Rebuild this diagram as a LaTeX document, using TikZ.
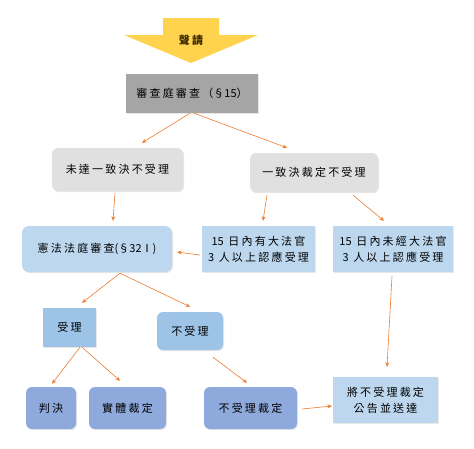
\documentclass[tikz,border=0pt]{standalone}
\usepackage{fontspec}
\setmainfont{Liberation Serif}
\newfontfamily\cjk[LetterSpace=20]{Noto Sans CJK TC}
\newfontfamily\cjktight{Noto Sans CJK TC}
\newcommand{\tight}[1]{{\cjktight #1}}
\usetikzlibrary{arrows.meta,calc,shadows}
\definecolor{arrowyellow}{HTML}{FFD34E}
\definecolor{boxgray}{HTML}{A5A5A5}
\definecolor{lightgray}{HTML}{E0E0E0}
\definecolor{lightblue}{HTML}{BDD7EE}
\definecolor{midblue}{HTML}{9DC3E6}
\definecolor{darkblue}{HTML}{8EA9DB}
\definecolor{conn}{HTML}{ED7D31}
\definecolor{applytext}{HTML}{3A2A00}
\begin{document}
\begin{tikzpicture}[x=1pt,y=-1pt,
  font=\cjk\fontsize{11}{16}\selectfont,
  base/.style={inner sep=0pt, align=center, text=black,
    drop shadow={opacity=0.18, shadow xshift=1pt, shadow yshift=-1.2pt}},
  graybox/.style={base, fill=boxgray},
  lgraybox/.style={base, fill=lightgray, rounded corners=6pt},
  lbluerect/.style={base, fill=lightblue},
  lblueround/.style={base, fill=lightblue, rounded corners=7pt},
  mbluerect/.style={base, fill=midblue},
  mblueround/.style={base, fill=midblue, rounded corners=6pt},
  dblueround/.style={base, fill=darkblue, rounded corners=6pt},
  conn/.style={draw=conn, line width=0.6pt, -{Stealth[length=4.5pt,width=4pt]}}
]
\useasboundingbox (0,0) rectangle (474,448);
\fill[white] (0,0) rectangle (474,448);

% yellow arrow
\fill[arrowyellow] (163,18) -- (219,18) -- (219,35) -- (258,35) -- (191,63) -- (124,35) -- (163,35) -- cycle;
\node[inner sep=0pt, text=applytext, font=\cjk\fontsize{11}{12}\selectfont\bfseries] (apply) at (191,40) {聲請};

\node[graybox, minimum width=132pt, minimum height=39pt] (gray) at (192,93.5) {審查庭審查（\tight{§15}）};

\node[lgraybox, minimum width=131pt, minimum height=43pt] (nomatch) at (117.5,169.5) {未達一致決不受理};
\node[lgraybox, minimum width=128pt, minimum height=39pt] (unan) at (314,172.5) {一致決裁定不受理};

\node[lblueround, minimum width=150pt, minimum height=46pt] (court) at (97,249) {憲法法庭審查\tight{(§32Ⅰ)}};
\node[lbluerect, minimum width=113pt, minimum height=46pt] (has15) at (258.5,249) {\tight{15} 日內有大法官\\\tight{3} 人以上認應受理};
\node[lbluerect, minimum width=120pt, minimum height=46pt] (not15) at (393,249) {\tight{15} 日內未經大法官\\\tight{3} 人以上認應受理};

\node[mbluerect, minimum width=53pt, minimum height=39pt] (accept) at (69.5,327.5) {受理};
\node[mblueround, minimum width=66pt, minimum height=38pt] (reject) at (190,331) {不受理};

\node[dblueround, minimum width=50pt, minimum height=42pt] (judg) at (51,408) {判決};
\node[dblueround, minimum width=77pt, minimum height=42pt] (ruling) at (127.5,408) {實體裁定};
\node[dblueround, minimum width=93pt, minimum height=42pt] (rejruling) at (250.5,408) {不受理裁定};
\node[lbluerect, minimum width=105pt, minimum height=46pt] (publish) at (385.5,400) {將不受理裁定\\公告並送達};

% connectors
\draw[conn] ($(gray.south)+(-2,0)$) -- ($(nomatch.north)+(24.5,-5)$);
\draw[conn] ($(gray.south)+(2,0)$) -- ($(unan.north)+(-27,-5)$);
\draw[conn] ($(nomatch.south)+(-2.5,2)$) -- ($(court.north)+(16,-5)$);
\draw[conn] ($(unan.south)+(-47,3)$) -- ($(has15.north)+(4.5,-5)$);
\draw[conn] ($(unan.south)+(39,3)$) -- ($(not15.north)+(-9,-5)$);
\draw[conn] ($(has15.west)+(-2,6)$) -- ($(court.east)+(5,3)$);
\draw[conn] ($(court.south)+(23,1)$) -- ($(accept.north)+(12.5,-5)$);
\draw[conn] ($(court.south)+(23,1)$) -- ($(reject.north)+(0,-5)$);
\draw[conn] ($(accept.south)+(10.5,0)$) -- ($(judg.north)+(1,-3)$);
\draw[conn] ($(accept.south)+(12.5,0)$) -- ($(ruling.north)+(-7.5,-6)$);
\draw[conn] ($(reject.south)+(23,7)$) -- ($(rejruling.north)+(-3.5,-4)$);
\draw[conn] ($(not15.south)+(-1,4)$) -- ($(publish.north)+(1.5,-10)$);
\draw[conn] ($(rejruling.east)+(5,1)$) -- ($(publish.west)+(-1,6)$);
\end{tikzpicture}
\end{document}
